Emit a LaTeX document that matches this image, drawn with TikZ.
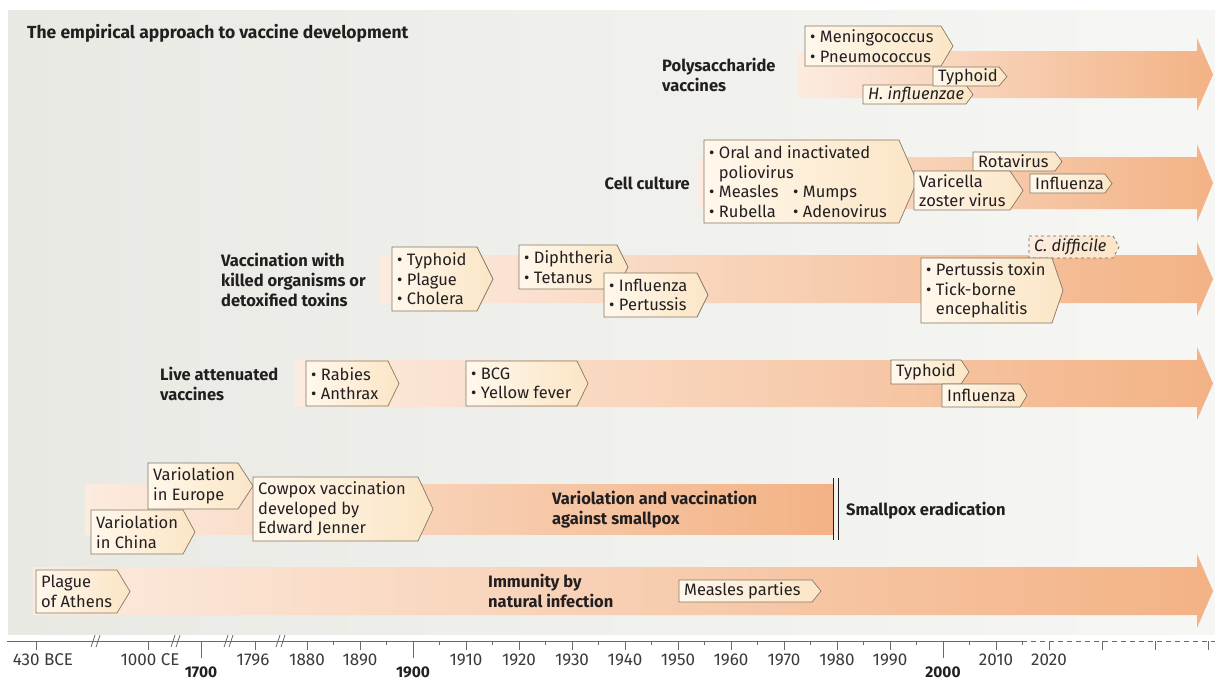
\documentclass[tikz,border=0pt]{standalone}
\usepackage{fontspec}
\setmainfont{Fira Sans}
\usetikzlibrary{calc}
\definecolor{txt}{HTML}{231F20}
\definecolor{axtxt}{HTML}{3A3A3A}
\definecolor{axisc}{HTML}{6A6A6A}
\definecolor{panelL}{HTML}{E9E9E4}
\definecolor{panelR}{HTML}{F6F6F4}
\definecolor{bandL}{HTML}{FCEBDF}
\definecolor{bandR}{HTML}{F3B285}
\definecolor{boxL}{HTML}{FFF8EC}
\definecolor{boxR}{HTML}{FBE5C5}
\definecolor{boxline}{HTML}{857865}
\newcommand{\bl}{\textbullet\ }
\newcommand{\tagbox}[8][]{%
  \path[tagshape,#1] (#3,#4) -- ++(#5,0) -- ++(#7,{#6/2}) -- ++(-#7,{#6/2}) -- ++(-#5,0) -- cycle;
  \node[tagtext, anchor=west] (#2) at ({#3+5},{#4+#6/2}) {#8};
}
\newcommand{\bandarrow}[3]{% x0, ytop, ybottom
  \shade[left color=bandL, right color=bandR] (#1,#2) -- (1197,#2) -- (1197,#2-13) -- (1213,{(#2+#3)/2}) -- (1197,#3+13) -- (1197,#3) -- (#1,#3) -- cycle;
}
\tikzset{
  tagshape/.style={left color=boxL, right color=boxR, draw=boxline, line width=0.7pt},
  tagtext/.style={inner sep=0pt, align=left, text=txt},
  bandlbl/.style={inner sep=0pt, align=left, text=txt, font=\fontsize{16.5}{20}\selectfont\bfseries},
  axistick/.style={draw=axisc, line width=0.8pt},
  yearlbl/.style={inner sep=0pt, text=axtxt, font=\fontsize{17}{18}\selectfont},
  yearbold/.style={inner sep=0pt, text=txt, font=\fontsize{15.5}{16}\selectfont\bfseries},
}
\begin{document}
\begin{tikzpicture}[x=1pt,y=-1pt,font=\fontsize{16.5}{19.5}\selectfont]
\useasboundingbox (0,0) rectangle (1215,681);
\fill[white] (0,0) rectangle (1215,681);
% background panel
\shade[left color=panelL, right color=panelR] (8,10) rectangle (1215,634);
\node[bandlbl, anchor=west, font=\fontsize{17.5}{20}\selectfont\bfseries] (title) at (27,33) {The empirical approach to vaccine development};

% ---------- Polysaccharide vaccines
\bandarrow{798}{51}{98}
\node[bandlbl, anchor=west] (polylbl) at (662,75) {Polysaccharide\\vaccines};
\tagbox{men}{805}{26}{136}{40}{12}{\bl Meningococcus\\\bl Pneumococcus}
\tagbox{hinf}{863}{85}{103}{19}{7}{\textit{H. influenzae}}
\tagbox{typhA}{933}{67}{66}{19}{8}{Typhoid}

% ---------- Cell culture
\bandarrow{697}{157}{209}
\node[bandlbl, anchor=east] (celllbl) at (690,183) {Cell culture};
\tagbox{polio}{704}{140}{195}{83}{18}{\bl Oral and inactivated\\\hphantom{\bl}poliovirus\\\makebox[84pt][l]{\bl Measles}\bl Mumps\\\makebox[84pt][l]{\bl Rubella}\bl Adenovirus}
\tagbox{rota}{973}{152}{82}{19}{7}{Rotavirus}
\tagbox{vzv}{914}{171}{96}{39}{13}{Varicella\\zoster virus}
\tagbox{inflA}{1030}{174}{75}{19}{7}{Influenza}

% ---------- Killed organisms / toxins
\bandarrow{380}{255}{303}
\node[bandlbl, anchor=west] (killlbl) at (221,280) {Vaccination with\\killed organisms or\\detoxified toxins};
\tagbox{tpc}{392}{247}{85}{64}{16}{\bl Typhoid\\\bl Plague\\\bl Cholera}
\tagbox{dip}{519}{245}{98}{44}{11}{\bl Diphtheria\\\bl Tetanus}
\tagbox{infp}{604}{273}{93}{44}{11}{\bl Influenza\\\bl Pertussis}
\tagbox[dashed, left color=bandL, right color=boxR, draw=axisc]{cdiff}{1029}{236}{84}{22}{6}{\textit{C. difficile}}
\tagbox{ptbe}{921}{258}{131}{65}{11}{\bl Pertussis toxin\\\bl Tick-borne\\\hphantom{\bl}encephalitis}

% ---------- Live attenuated
\bandarrow{295}{360}{407}
\node[bandlbl, anchor=west] (livelbl) at (160,384) {Live attenuated\\vaccines};
\tagbox{rab}{306}{361}{82}{45}{11}{\bl Rabies\\\bl Anthrax}
\tagbox{bcg}{466}{361}{111}{45}{11}{\bl BCG\\\bl Yellow fever}
\tagbox{typhB}{891}{360}{70}{24}{8}{Typhoid}
\tagbox{inflB}{942}{384}{78}{23}{7}{Influenza}

% ---------- Smallpox
\shade[left color=bandL, right color=bandR] (85,484) rectangle (833,534);
\draw[draw=txt, line width=1.3pt] (833.5,478) -- (833.5,540);
\draw[draw=txt, line width=1.3pt] (838.5,478) -- (838.5,540);
\node[bandlbl, anchor=west] (smlbl) at (552,510) {Variolation and vaccination\\against smallpox};
\node[bandlbl, anchor=west] (erad) at (846,511) {Smallpox eradication};
\tagbox{eur}{148}{463}{90}{46}{15}{Variolation\\in Europe}
\tagbox{chi}{91}{510}{92}{44}{12}{Variolation\\in China}
\tagbox{cow}{253}{477}{165}{64}{15}{Cowpox vaccination\\developed by\\Edward Jenner}

% ---------- Natural infection
\bandarrow{33}{567}{615}
\node[bandlbl, anchor=west] (natlbl) at (488,591) {Immunity by\\natural infection};
\tagbox{pla}{36}{570}{81}{43}{13}{Plague\\of Athens}
\tagbox{mea}{679}{580}{133}{22}{9}{Measles parties}

% ---------- Axis
\draw[axistick] (7,641) -- (1022,641);
\draw[axistick, dash pattern=on 5pt off 4pt] (1022,641) -- (1215,641);
\foreach \bx in {97,177,230,282} {
  \draw[axistick] (\bx-6,647) -- (\bx-2,635);
  \draw[axistick] (\bx-1,647) -- (\bx+3,635);
}
% ticks before 1880
\foreach \tx in {36,148,255} { \draw[axistick] (\tx,641) -- (\tx,650); }
\draw[axistick] (201,641) -- (201,658);
% decades
\foreach \yr in {1880,1890,1910,1920,1930,1940,1950,1960,1970,1980,1990,2010,2020,2030,2040,2050} {
  \pgfmathsetmacro\xx{413+(\yr-1900)*5.3}
  \draw[axistick] (\xx,641) -- (\xx,650);
}
\foreach \yr in {1885,1895,1905,1915,1925,1935,1945,1955,1965,1975,1985,1995,2005,2015} {
  \pgfmathsetmacro\xx{413+(\yr-1900)*5.3}
  \draw[axistick] (\xx,641) -- (\xx,644.5);
}
\draw[axistick] (413,641) -- (413,658);
\draw[axistick] (943,641) -- (943,658);
% labels
\node[yearlbl] (l430) at (43,660) {430 BCE};
\node[yearlbl] (l1000) at (150,660) {1000 CE};
\node[yearlbl] (l1796) at (253,660) {1796};
\foreach \yr in {1880,1890,1910,1920,1930,1940,1950,1960,1970,1980,1990,2010,2020} {
  \pgfmathsetmacro\xx{413+(\yr-1900)*5.3}
  \node[yearlbl] (l\yr) at (\xx,660) {\yr};
}
\node[yearbold] (b1700) at (201,672) {1700};
\node[yearbold] (b1900) at (413,672) {1900};
\node[yearbold] (b2000) at (943,672) {2000};
\end{tikzpicture}
\end{document}
